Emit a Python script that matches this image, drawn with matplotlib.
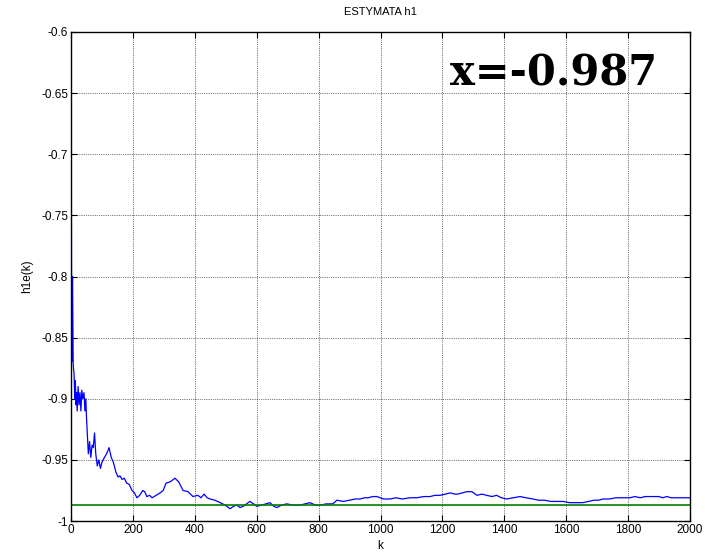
import numpy as np
import matplotlib
matplotlib.use('Agg')
import matplotlib.pyplot as plt

# estimate h1e(k), as (k, value) pairs
early = [(1, -0.684), (2, -0.87), (3, -0.805), (4, -0.81), (5, -0.80),
         (6, -0.84), (7, -0.87), (8, -0.875), (10, -0.88), (12, -0.90),
         (14, -0.885), (16, -0.905), (18, -0.895), (20, -0.91), (23, -0.89),
         (26, -0.905), (29, -0.895), (32, -0.91), (35, -0.893), (38, -0.90),
         (42, -0.895), (45, -0.91), (48, -0.90), (50, -0.915), (53, -0.93),
         (56, -0.945), (60, -0.935), (64, -0.948), (68, -0.938), (72, -0.94),
         (76, -0.928), (80, -0.945), (85, -0.955), (90, -0.95), (95, -0.957),
         (100, -0.952), (108, -0.948), (115, -0.945), (123, -0.94),
         (130, -0.948), (137, -0.952), (145, -0.96), (152, -0.964)]
middle = [(158, -0.963), (165, -0.966), (172, -0.965), (180, -0.969),
          (188, -0.970), (197, -0.975), (205, -0.977), (213, -0.981),
          (222, -0.979), (232, -0.975), (238, -0.976), (245, -0.980),
          (254, -0.979), (262, -0.981), (275, -0.979), (288, -0.977),
          (298, -0.975), (307, -0.969), (320, -0.968), (336, -0.965),
          (348, -0.968), (362, -0.975), (378, -0.976), (394, -0.980),
          (410, -0.979), (420, -0.981), (430, -0.978), (440, -0.981),
          (449, -0.982), (465, -0.983), (482, -0.985), (498, -0.987),
          (514, -0.990), (525, -0.988), (536, -0.987), (546, -0.989),
          (556, -0.988), (567, -0.986), (578, -0.984), (590, -0.986),
          (600, -0.988), (615, -0.987), (630, -0.986), (643, -0.985),
          (655, -0.988), (665, -0.989), (680, -0.987), (697, -0.986),
          (718, -0.987), (740, -0.987), (756, -0.986), (772, -0.985),
          (790, -0.987), (805, -0.987), (825, -0.986), (846, -0.986)]
late = [(859, -0.983), (880, -0.984), (900, -0.983), (918, -0.982),
        (934, -0.982), (948, -0.981), (960, -0.981), (975, -0.980),
        (988, -0.980), (1010, -0.982), (1031, -0.982), (1050, -0.981),
        (1070, -0.982), (1095, -0.981), (1117, -0.981), (1140, -0.980),
        (1160, -0.980), (1176, -0.979), (1192, -0.979), (1210, -0.978),
        (1225, -0.977), (1240, -0.978), (1250, -0.978), (1265, -0.977),
        (1279, -0.976), (1295, -0.976), (1312, -0.979), (1328, -0.978),
        (1343, -0.979), (1360, -0.980), (1375, -0.979), (1390, -0.981),
        (1408, -0.982), (1430, -0.981), (1451, -0.980), (1470, -0.981),
        (1493, -0.982), (1510, -0.983), (1530, -0.983), (1550, -0.984),
        (1570, -0.984), (1590, -0.984), (1610, -0.985), (1630, -0.985),
        (1654, -0.985), (1672, -0.984), (1690, -0.983), (1705, -0.983),
        (1719, -0.982), (1740, -0.982), (1760, -0.981), (1783, -0.981),
        (1806, -0.981), (1822, -0.980), (1840, -0.981), (1855, -0.980),
        (1870, -0.980), (1885, -0.980), (1900, -0.980), (1912, -0.981),
        (1925, -0.980), (1940, -0.981), (1960, -0.981), (1980, -0.981),
        (2000, -0.981)]
h1_true = -0.987

xticks = list(range(0, 2001, 200))
yticks = [-1, -0.95, -0.9, -0.85, -0.8, -0.75, -0.7, -0.65, -0.6]
ylabels = ['-1', '-0.95', '-0.9', '-0.85', '-0.8', '-0.75', '-0.7', '-0.65', '-0.6']

k = [p[0] for p in early + middle + late]
h1e = [p[1] for p in early + middle + late]

plt.rcParams['font.family'] = ['Liberation Sans', 'DejaVu Sans']

fig = plt.figure(figsize=(7.05, 5.57), dpi=100)
ax = fig.add_axes([71 / 705, 36 / 557, 619 / 705, 489 / 557])

ax.plot(k, h1e, color='b', linewidth=0.9)
ax.plot([0, 2000], [h1_true, h1_true], color=(0, 0.5, 0), linewidth=1.2)

ax.set_xlim(0, 2000)
ax.set_ylim(-1, -0.6)
ax.set_xticks(xticks)
ax.set_yticks(yticks)
ax.set_yticklabels(ylabels)
ax.tick_params(direction='in', top=True, right=True, labelsize=8.5, length=4, pad=2)
ax.grid(True, linestyle=':', color='k', linewidth=0.5)
for s in ax.spines.values():
    s.set_linewidth(1)

ax.set_title('ESTYMATA h1', fontsize=8, pad=12)
ax.set_xlabel('k', fontsize=8.5, labelpad=3)
ax.set_ylabel('h1e(k)', fontsize=8.5, labelpad=6)

ax.text(1224, -0.6434, 'x=-0.987', family='DejaVu Serif', fontweight='bold',
        fontsize=30, ha='left', va='baseline')

fig.savefig('out.png', dpi=100)
